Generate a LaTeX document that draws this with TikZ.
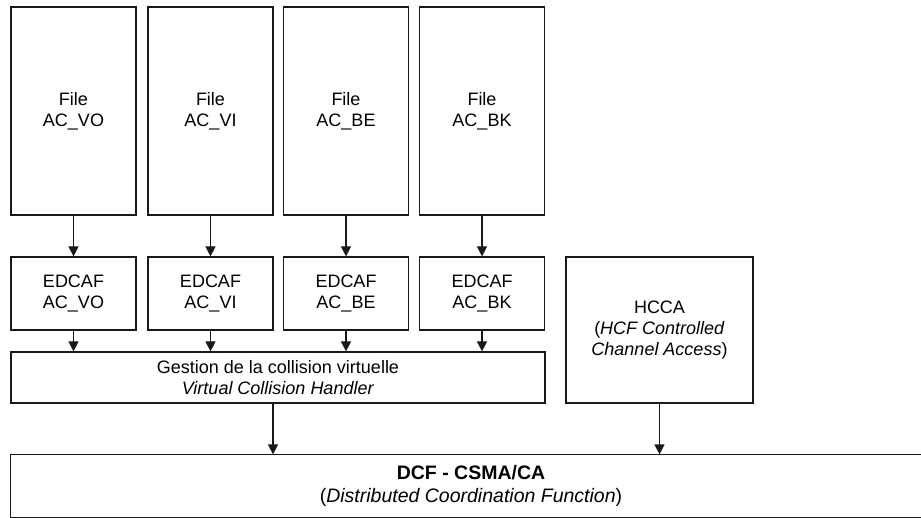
\documentclass[tikz,border=0pt]{standalone}
\usepackage{fontspec}
\setmainfont{Liberation Sans}
\usetikzlibrary{arrows.meta}
\begin{document}
\begin{tikzpicture}[x=1bp,y=-1bp,
  box/.style={draw=black!90, line width=1.2bp, inner sep=0pt, align=center,
    font=\fontsize{18bp}{21bp}\selectfont},
  bigbox/.style={box, draw=none, font=\fontsize{19.5bp}{23bp}\selectfont},
  edge/.style={draw=black!90, line width=1.2bp},
  arr/.style={edge, -{Triangle[width=10bp,length=10bp]}}]
\useasboundingbox (0,0) rectangle (921,518);
% File boxes
\node[box, minimum width=125bp, minimum height=208bp] (f1) at (73.5,111) {File\\AC\_VO};
\node[box, minimum width=125bp, minimum height=208bp] (f2) at (210.5,111) {File\\AC\_VI};
\node[box, minimum width=125bp, minimum height=208bp] (f3) at (346,111) {File\\AC\_BE};
\node[box, minimum width=125bp, minimum height=208bp] (f4) at (482,111) {File\\AC\_BK};
% EDCAF boxes
\node[box, minimum width=125bp, minimum height=73bp] (e1) at (73.5,293.5) {EDCAF\\AC\_VO};
\node[box, minimum width=125bp, minimum height=73bp] (e2) at (210.5,293.5) {EDCAF\\AC\_VI};
\node[box, minimum width=125bp, minimum height=73bp] (e3) at (346,293.5) {EDCAF\\AC\_BE};
\node[box, minimum width=125bp, minimum height=73bp] (e4) at (482,293.5) {EDCAF\\AC\_BK};
% Gestion
\node[box, minimum width=534bp, minimum height=51bp] (g) at (278,377.5) {Gestion de la collision virtuelle\\\textit{Virtual Collision Handler}};
% HCCA
\node[box, minimum width=187bp, minimum height=146bp] (h) at (659.5,330) {HCCA\\(\textit{HCF Controlled}\\\textit{Channel Access})};
% DCF (its right side runs off the picture)
\node[bigbox, minimum width=920bp, minimum height=62bp] (d) at (471,486) {\textbf{DCF - CSMA/CA}\\(\textit{Distributed Coordination Function})};
\draw[edge] (d.north east) -- (d.north west) -- (d.south west) -- (d.south east);
% arrows
\foreach \i in {1,2,3,4}{
  \draw[arr] (f\i.south) -- (e\i.north);
  \draw[arr] (e\i.south) -- (e\i.south |- g.north);
}
\draw[arr] ([xshift=-5bp]g.south) -- ([xshift=-5bp]g.south |- d.north);
\draw[arr] (h.south) -- (h.south |- d.north);
\end{tikzpicture}
\end{document}
